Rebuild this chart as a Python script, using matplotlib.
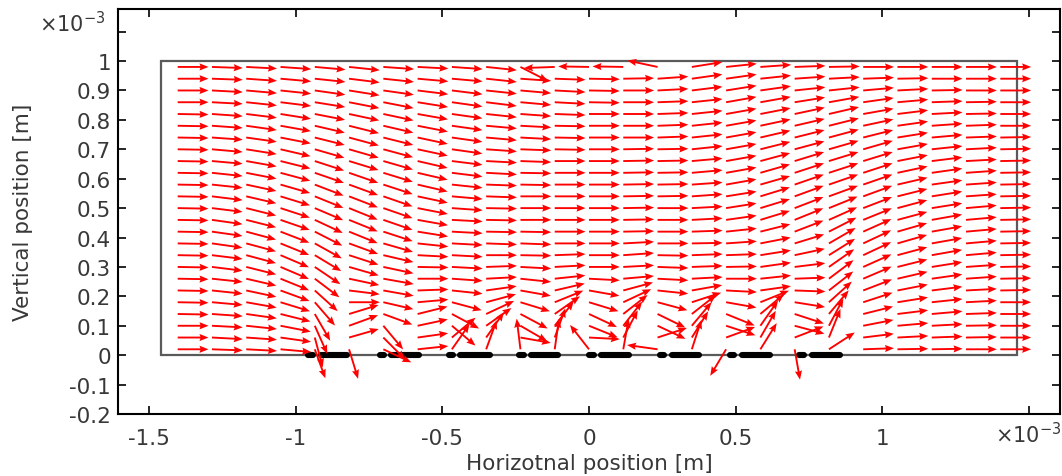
import numpy as np
import matplotlib.pyplot as plt
from matplotlib.patches import Rectangle

# domain (units of 1e-3 m) and arrow grid
dom_x = [-1.46, 1.46]
dom_y = [0.0, 1.0]
n_cols = 25
n_rows = 25
arrow_len = 0.105

# arrow angles in degrees, one list per grid column (left to right),
# each list runs from the top row down to the bottom row
angles_by_column = [
    [0, 0, 0, 0, -1, -1, -1, -1, -1, -1, -1, -1, -1, -1, -1, -1, -1, -1, -1, -1, -1, -1, 0, 0, 0],
    [-2, -2, -3, -3, -4, -4, -4, -5, -5, -6, -6, -7, -7, -8, -8, -8, -7, -7, -6, -6, -5, -4, -3, -3, -2],
    [-3, -4, -5, -6, -7, -8, -8, -9, -10, -11, -12, -13, -14, -14, -15, -15, -15, -14, -13, -12, -10, -8, -6, -4, -3],
    [-4, -5, -6, -7, -9, -10, -11, -13, -14, -15, -16, -17, -18, -19, -21, -22, -23, -23, -22, -20, -17, -14, -11, -8, -5],
    [-5, -6, -8, -9, -11, -13, -14, -16, -18, -19, -21, -22, -23, -25, -27, -29, -31, -34, -37, -42, -49, -60, -66, -75, -70],
    [-6, -7, -9, -11, -12, -14, -15, -16, -17, -19, -20, -21, -22, -22, -22, -20, -18, -16, -12, -7, 0, 17, 20, 16, -73],
    [-4, -6, -8, -11, -12, -13, -14, -15, -16, -17, -18, -19, -19, -19, -18, -16, -13, -12, -10, -10, -13, -20, -50, -45, -25],
    [-3, -5, -7, -9, -10, -11, -12, -12, -13, -13, -13, -12, -11, -10, -9, -6, -3, -1, 0, 2, 5, 14, 12, 8, 6],
    [-4, -5, -7, -8, -8, -8, -8, -8, -7, -7, -6, -5, -4, -3, -3, -3, -3, -3, -4, -6, -15, -28, -40, 40, 55],
    [-6, -6, -6, -7, -6, -5, -5, -4, -3, -3, -2, -2, -1, -1, -1, -2, 0, 2, 3, 8, 15, 25, 35, 55, 70],
    [-27, -4, -5, -5, -4, -3, -3, -2, -2, -1, -1, 0, 0, 0, -1, -2, -1, -3, -6, -10, -17, -28, -30, -10, 97],
    [182, -2, -3, -3, -2, -1, -1, -1, 0, 0, 0, 0, 0, 0, 0, 0, 2, 3, 6, 13, 22, 35, 52, 70, 82],
    [179, -1, -1, -1, 0, 0, 0, 0, 0, 0, 0, 0, 0, 0, 0, 0, 0, 0, -3, -10, -17, -25, -22, -3, 128],
    [179, 1, 0, 0, 0, 0, 0, 1, 1, 1, 1, 1, 1, 1, 1, 3, 4, 3, 5, 15, 25, 38, 52, 62, 80],
    [168, 4, 3, 2, 2, 2, 2, 1, 1, 1, 1, 1, 0, 0, 0, 0, -1, -2, -3, -6, -15, -26, -25, 18, 172],
    [9, 8, 7, 6, 6, 6, 6, 6, 5, 5, 4, 4, 3, 3, 2, 1, 2, 2, 3, 10, 18, 38, 50, 58, 72],
    [6, 8, 9, 10, 10, 10, 10, 10, 10, 10, 10, 9, 9, 8, 6, 4, 2, 1, 0, -3, -10, -22, -18, 20, -121],
    [4, 6, 8, 10, 11, 12, 13, 14, 15, 16, 16, 17, 17, 17, 14, 11, 9, 8, 6, 8, 22, 40, 55, 60, 58],
    [2, 4, 6, 9, 12, 13, 14, 15, 17, 18, 19, 20, 21, 22, 21, 17, 12, 7, 2, -2, -9, -18, -15, 21, -80],
    [1, 3, 6, 10, 13, 14, 15, 16, 17, 18, 19, 20, 22, 24, 27, 30, 32, 35, 37, 38, 42, 50, 62, 68, 33],
    [0, 2, 5, 8, 10, 12, 14, 16, 17, 18, 19, 20, 21, 22, 24, 25, 25, 24, 23, 21, 18, 14, 11, 7, 2],
    [0, 1, 3, 5, 7, 8, 9, 10, 11, 12, 13, 14, 15, 15, 16, 16, 15, 14, 13, 11, 9, 7, 5, 3, 1],
    [0, 0, 1, 2, 3, 4, 5, 6, 7, 8, 8, 9, 9, 10, 10, 10, 10, 9, 8, 7, 6, 5, 3, 2, 1],
    [0, 0, 0, 1, 1, 2, 2, 3, 3, 4, 4, 4, 5, 5, 5, 5, 5, 4, 4, 3, 3, 2, 1, 1, 0],
    [0, 0, 0, 0, 0, 0, 1, 1, 1, 1, 1, 1, 1, 1, 1, 1, 1, 1, 1, 1, 0, 0, 0, 0, 0],
]

# electrode edges along y = 0 (each electrode = short pad + long finger)
elec_left = [-0.968, -0.923, -0.722, -0.685, -0.487, -0.450, -0.249, -0.208,
             -0.010, 0.031, 0.232, 0.273, 0.470, 0.511, 0.705, 0.750]
elec_right = [-0.933, -0.814, -0.688, -0.572, -0.453, -0.330, -0.211, -0.095,
              0.027, 0.147, 0.266, 0.385, 0.504, 0.627, 0.743, 0.865]

xticks = [-1.5, -1, -0.5, 0, 0.5, 1, 1.5]
xtick_labels = ["-1.5", "-1", "-0.5", "0", "0.5", "1", ""]
yticks = [-0.2, -0.1, 0, 0.1, 0.2, 0.3, 0.4, 0.5, 0.6, 0.7, 0.8, 0.9, 1, 1.1]
ytick_labels = ["-0.2", "-0.1", "0", "0.1", "0.2", "0.3", "0.4", "0.5",
                "0.6", "0.7", "0.8", "0.9", "1", ""]

txt = "#383838"
fs = 15.5
plt.rcParams["font.family"] = "DejaVu Sans"

fig = plt.figure(figsize=(10.62, 4.77), dpi=100)
ax = fig.add_axes([118 / 1062, 62 / 477, 942 / 1062, 405 / 477])

# grid of arrow tails (cell centres)
dx = (dom_x[1] - dom_x[0]) / n_cols
dy = (dom_y[1] - dom_y[0]) / n_rows
gx = dom_x[0] + dx * (np.arange(n_cols) + 0.5)
gy = dom_y[0] + dy * (np.arange(n_rows) + 0.5)
X, Y = np.meshgrid(gx, gy)
ang = np.radians(np.array(angles_by_column, dtype=float).T[::-1])
U = arrow_len * np.cos(ang)
V = arrow_len * np.sin(ang)

# domain outline
ax.add_patch(Rectangle((dom_x[0], dom_y[0]), dom_x[1] - dom_x[0], dom_y[1] - dom_y[0],
                       fill=False, edgecolor="#5a5a5a", lw=1.6, zorder=2))

# electrodes
cap = 0.009
for a, b in zip(elec_left, elec_right):
    ax.plot([a + cap, b - cap], [0, 0], color="black", lw=4.4,
            solid_capstyle="round", zorder=2.5)

ax.quiver(X, Y, U, V, color="#ff0000", angles="xy", scale_units="xy", scale=1,
          width=0.0020, headwidth=3.8, headlength=4.8, headaxislength=4.3,
          zorder=3, clip_on=False)

ax.set_xlim(-1.605, 1.605)
ax.set_ylim(-0.2, 1.177)
ax.set_xticks(xticks)
ax.set_xticklabels(xtick_labels)
ax.set_yticks(yticks)
ax.set_yticklabels(ytick_labels)
ax.tick_params(direction="in", top=True, right=True, length=6, width=1.2,
               labelsize=fs, labelcolor=txt, color="black")
ax.tick_params(axis="x", pad=10)
ax.tick_params(axis="y", pad=5)
for s in ax.spines.values():
    s.set_linewidth(1.5)

ax.set_xlabel("Horizotnal position [m]", fontsize=fs, color=txt, labelpad=4)
ax.set_ylabel("Vertical position [m]", fontsize=fs, color=txt, labelpad=26)

fig.text(39 / 1062, 1 - 32 / 477, r"$\times$10$^{-3}$", fontsize=15, color=txt,
         ha="left", va="baseline")
fig.text(995 / 1062, 1 - 443 / 477, r"$\times$10$^{-3}$", fontsize=15, color=txt,
         ha="left", va="baseline")

fig.savefig("out.png", dpi=100)
